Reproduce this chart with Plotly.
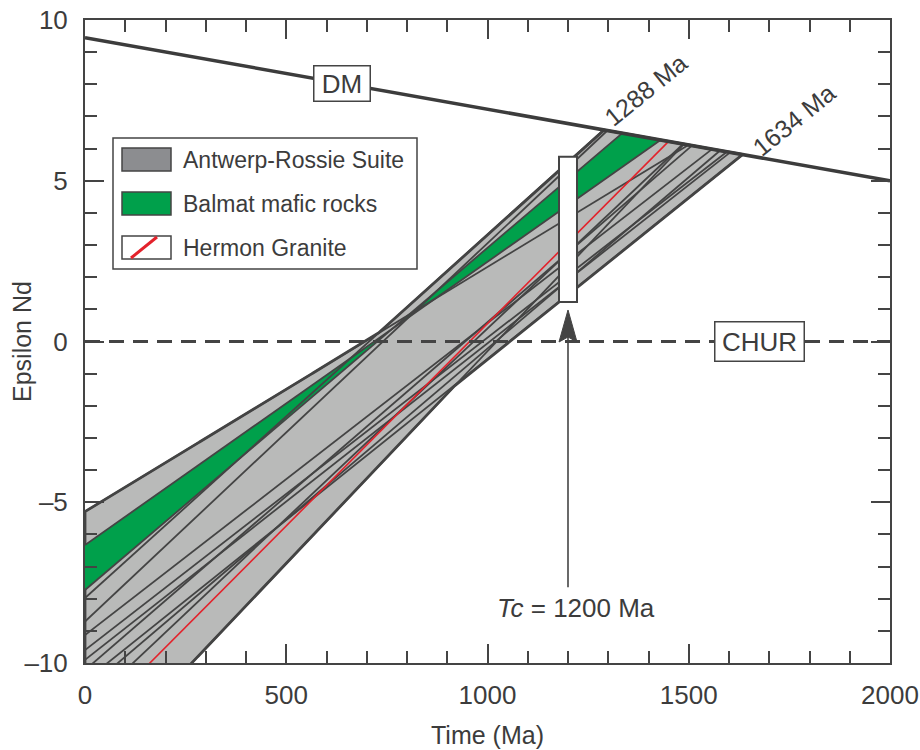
import numpy as np
import plotly.graph_objects as go

# ---------------- data ----------------
# Depleted-mantle evolution line (Time Ma, epsilon Nd)
dm_t = [0, 2000]
dm_e = [9.45, 5.0]
chur_e = 0.0

# Antwerp-Rossie Suite: epsilon Nd at present and model age T_DM (Ma)
ar_e0 = [-5.29, -7.98, -8.71, -9.13, -9.60, -9.90, -10.22, -10.56, -10.87, -11.41, -13.50]
ar_tdm = [1499, 1288, 1298, 1558, 1595, 1603, 1508, 1634, 1578, 1486, 1488]

# Balmat mafic rocks
balmat_e0 = [-6.33, -7.73]
balmat_tdm = [1430, 1335]

# Hermon Granite
hermon_e0 = [-12.03]
hermon_tdm = [1450]

# Crystallisation age marker
tc = 1200
tc_box = [1.23, 5.75]
tc_arrow = [-7.64, 0.98]

labels_tdm = [1288, 1634]
legend_names = ["Antwerp-Rossie Suite", "Balmat mafic rocks", "Hermon Granite"]

x_ticks = [0, 500, 1000, 1500, 2000]
y_ticks = [-10, -5, 0, 5, 10]
y_ticktext = ["\u201310", "\u20135", "0", "5", "10"]
x_title = "Time (Ma)"
y_title = "Epsilon Nd"

# ---------------- helpers ----------------
FONT = "Liberation Sans, Arial, Helvetica, sans-serif"
INK = "#3c3c3c"
LINE = "#444444"
GRAY = "#b9bab9"
GREEN = "#00a04b"
RED = "#e3222b"

L, R, T, B = 85, 30, 20, 87
W, H = 920, 750
PW, PH = W - L - R, H - T - B


def dm(t):
    return np.interp(t, dm_t, dm_e)


def slope(e0, tdm):
    return (float(dm(tdm)) - e0) / tdm


def px(xp):
    return (xp - L) / PW


def py(yp):
    return (H - B - yp) / PH


fig = go.Figure()

# gray envelope of all evolution lines
all_lines = list(zip(ar_e0, ar_tdm)) + list(zip(balmat_e0, balmat_tdm)) + list(zip(hermon_e0, hermon_tdm))
tg = np.linspace(0, max(ar_tdm), 3269)
vals = np.array([e0 + slope(e0, td) * tg for e0, td in all_lines])
upper = np.minimum(dm(tg), vals.max(axis=0))
lower = vals.min(axis=0)
fig.add_trace(go.Scatter(
    x=np.concatenate([tg, tg[::-1], tg[:1]]),
    y=np.concatenate([upper, lower[::-1], upper[:1]]),
    fill="toself", fillcolor=GRAY, mode="lines",
    line=dict(color=LINE, width=2.8), hoverinfo="skip", showlegend=False))

# green Balmat band
p_e0, q_e0 = balmat_e0
p_t, q_t = balmat_tdm
fig.add_trace(go.Scatter(
    x=[0, p_t, q_t, 0, 0],
    y=[p_e0, float(dm(p_t)), float(dm(q_t)), q_e0, p_e0],
    fill="toself", fillcolor=GREEN, mode="lines",
    line=dict(color=GREEN, width=0), hoverinfo="skip", showlegend=False))

# individual lines
xs, ys = [], []
for e0, td in list(zip(ar_e0, ar_tdm)) + list(zip(balmat_e0, balmat_tdm)):
    xs += [0, td, None]
    ys += [e0, float(dm(td)), None]
fig.add_trace(go.Scatter(x=xs, y=ys, mode="lines",
                         line=dict(color=LINE, width=1.8), hoverinfo="skip", showlegend=False))

for e0, td in zip(hermon_e0, hermon_tdm):
    fig.add_trace(go.Scatter(x=[0, td], y=[e0, float(dm(td))], mode="lines",
                             line=dict(color=RED, width=1.6), hoverinfo="skip", showlegend=False))

# DM and CHUR
fig.add_trace(go.Scatter(x=dm_t, y=dm_e, mode="lines",
                         line=dict(color="#3c3c3c", width=3.5), hoverinfo="skip", showlegend=False))
fig.add_trace(go.Scatter(x=[0, 2000], y=[chur_e, chur_e], mode="lines",
                         line=dict(color="#444444", width=3, dash="15px,9px"),
                         hoverinfo="skip", showlegend=False))

shapes = []
# Tc box
shapes.append(dict(type="rect", xref="x", yref="y", xsizemode="pixel", xanchor=tc,
                   x0=-9, x1=9, y0=tc_box[0], y1=tc_box[1],
                   fillcolor="white", line=dict(color=LINE, width=2)))
# arrow shaft
shapes.append(dict(type="line", xref="x", yref="y", x0=tc, x1=tc,
                   y0=tc_arrow[0], y1=tc_arrow[1] - 0.6,
                   line=dict(color=LINE, width=1.6)))
# arrow head
shapes.append(dict(type="path", xref="x", yref="y", xsizemode="pixel", ysizemode="pixel",
                   xanchor=tc, yanchor=tc_arrow[1],
                   path="M0,0 L-9,-32 L0,-27 L9,-32 Z",
                   fillcolor=LINE, line=dict(color=LINE, width=1)))

# legend box (manual)
shapes.append(dict(type="rect", xref="paper", yref="paper",
                   x0=px(113), x1=px(417), y0=py(269), y1=py(138),
                   fillcolor="white", line=dict(color=LINE, width=1.5), layer="above"))
rows = [159.5, 203.5, 247.5]
sw_fill = ["#8c8d90", GREEN, "white"]
for r, c in zip(rows, sw_fill):
    shapes.append(dict(type="rect", xref="paper", yref="paper",
                       x0=px(122), x1=px(171), y0=py(r + 11.5), y1=py(r - 11.5),
                       fillcolor=c, line=dict(color=LINE, width=1.5), layer="above"))
shapes.append(dict(type="line", xref="paper", yref="paper",
                   x0=px(131), x1=px(157), y0=py(rows[2] + 10.5), y1=py(rows[2] - 10.5),
                   line=dict(color=RED, width=3), layer="above"))

annotations = []
for r, name in zip(rows, legend_names):
    annotations.append(dict(xref="paper", yref="paper", x=px(181), y=py(r), text=name,
                            showarrow=False, xanchor="left", yanchor="middle",
                            font=dict(family=FONT, size=23, color=INK)))

# DM / CHUR boxed labels
annotations.append(dict(x=638, y=float(dm(638)), text="DM", showarrow=False,
                        bgcolor="white", bordercolor=LINE, borderwidth=1.5, borderpad=0,
                        width=55, height=34,
                        font=dict(family=FONT, size=26, color=INK)))
annotations.append(dict(x=1676, y=chur_e, text="CHUR", showarrow=False,
                        bgcolor="white", bordercolor=LINE, borderwidth=1.5, borderpad=0,
                        width=88, height=38,
                        font=dict(family=FONT, size=26, color=INK)))

# model age labels
shifts = [(42, 40), (51, 35)]
for td, (dx, dy) in zip(labels_tdm, shifts):
    annotations.append(dict(x=td, y=float(dm(td)), text=f"{td} Ma", showarrow=False,
                            textangle=-39, xshift=dx, yshift=dy,
                            font=dict(family=FONT, size=25, color=INK)))

# Tc label
annotations.append(dict(x=tc, y=-8.3, text=f"<i>Tc</i> = {tc} Ma", showarrow=False,
                        xshift=8, font=dict(family=FONT, size=26, color=INK)))

# axis titles
annotations.append(dict(xref="paper", yref="paper", x=0.5, y=py(735), text=x_title,
                        showarrow=False, xanchor="center", yanchor="middle",
                        font=dict(family=FONT, size=25, color=INK)))
annotations.append(dict(xref="paper", yref="paper", x=px(22), y=py(341), text=y_title,
                        showarrow=False, xanchor="center", yanchor="middle", textangle=-90,
                        font=dict(family=FONT, size=25, color=INK)))

fig.update_layout(
    width=W, height=H,
    margin=dict(l=L, r=R, t=T, b=B),
    paper_bgcolor="white", plot_bgcolor="white",
    shapes=shapes, annotations=annotations,
    showlegend=False,
    font=dict(family=FONT, color=INK),
)

axis_common = dict(
    showgrid=False, zeroline=False, showline=True, linecolor=LINE, linewidth=2,
    mirror="ticks", ticks="inside", tickwidth=2, tickcolor=LINE, ticklen=19,
    tickfont=dict(family=FONT, size=26, color=INK),
    automargin=False,
)
fig.update_xaxes(range=[0, 2000], tickvals=x_ticks, ticktext=[str(v) for v in x_ticks],
                 minor=dict(dtick=100, ticks="inside", ticklen=12, tickwidth=2, tickcolor=LINE),
                 ticklabelstandoff=8, **axis_common)
fig.update_yaxes(range=[-10, 10], tickvals=y_ticks, ticktext=y_ticktext,
                 minor=dict(dtick=1, ticks="inside", ticklen=12, tickwidth=2, tickcolor=LINE),
                 ticklabelstandoff=10, **axis_common)

fig.write_html("out.html")
